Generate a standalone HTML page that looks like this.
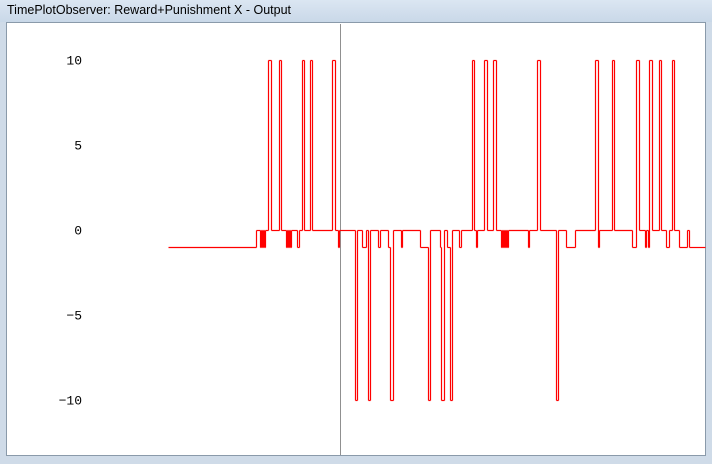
<!DOCTYPE html>
<html><head><meta charset="utf-8"><style>
html,body{margin:0;padding:0;width:712px;height:464px;overflow:hidden;background:#cfdbe8;font-family:"Liberation Sans",sans-serif}
#title{position:absolute;left:0;top:0;width:712px;height:22px;background:linear-gradient(#dbe6f2,#c9d8e8)}
#title span{position:absolute;left:7px;top:3px;font-size:12.5px;color:#000}
#client{position:absolute;left:6px;top:22px;width:700px;height:434px;background:#fff;border:1px solid #8a9aaa;box-sizing:border-box}
svg{position:absolute;left:0;top:0}
</style></head><body>
<div id="title"><span>TimePlotObserver: Reward+Punishment X - Output</span></div>
<div id="client"></div>
<svg width="712" height="464">
<g id="ticks"></g>
<line x1="340.5" y1="24" x2="340.5" y2="455" stroke="#909090" stroke-width="1"/>
<g id="series" stroke="#ff0000" stroke-width="1.2" fill="none"></g>
</svg>
<script>
const yTicks=[10,5,0,-5,-10];
const tickLabels=["10","5","0","\u22125","\u221210"];
const times=[168,256,260,261,262,263,264,265,268,271,279,281,286,287,288,289,290,291,297,299,302,304,310,312,332,335,338,339,355,357,362,366,368,370,378,380,388,390,393,401,402,420,428,430,440,441,444,447,450,452,459,461,472,474,476,477,484,487,493,496,501,502,503,504,505,506,507,508,528,529,537,540,556,558,566,575,595,598,599,612,614,632,636,639,645,646,648,649,652,659,661,666,669,672,674,679,687,689,705];
const values=[-1,0,-1,0,-1,0,-1,0,10,0,10,0,-1,0,-1,0,-1,0,-1,0,10,0,10,0,10,0,-1,0,-10,0,-1,0,-10,0,-1,0,-1,-10,0,-1,0,-1,-10,0,-1,-10,0,-1,-10,0,-1,0,10,0,-1,0,10,0,10,0,-1,0,-1,0,-1,0,-1,0,-1,0,10,0,-10,0,-1,0,10,-1,0,10,0,-1,10,0,-1,0,-1,10,0,10,0,-1,0,10,0,-1,0,-1,-1];
const yScale=v=>230.5-v*17;
const xScale=t=>t+0.5;
const NS='http://www.w3.org/2000/svg';
const tg=document.getElementById('ticks');
yTicks.forEach((v,i)=>{
  const t=document.createElementNS(NS,'text');
  
  
  t.setAttribute('x',82);t.setAttribute('y',yScale(v)+4);
  t.setAttribute('text-anchor','end');
  t.setAttribute('font-family','"Liberation Mono",monospace');
  t.setAttribute('font-size','13');
  t.textContent=tickLabels[i];tg.appendChild(t);
});
const sg=document.getElementById('series');
function seg(x1,y1,x2,y2){
  const l=document.createElementNS(NS,'line');
  
  
  l.setAttribute('x1',x1);l.setAttribute('y1',y1);l.setAttribute('x2',x2);l.setAttribute('y2',y2);
  l.setAttribute('stroke','#ff0000');
  sg.appendChild(l);
}
for(let i=0;i<times.length-1;i++){
  const x0=xScale(times[i]),x1=xScale(times[i+1]),y=yScale(values[i]);
  seg(x0,y,x1,y);
  if(i<times.length-2) seg(x1,y,x1,yScale(values[i+1]));
}
</script>
</body></html>
